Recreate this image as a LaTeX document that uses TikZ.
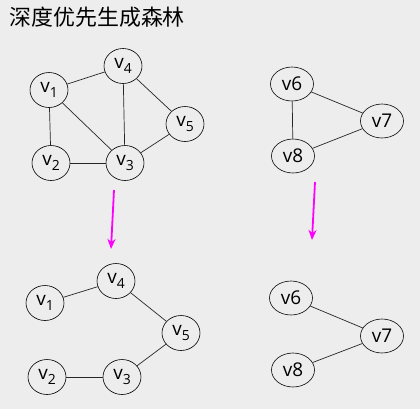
\documentclass[tikz,border=0pt]{standalone}
\usepackage{fontspec}
\setmainfont{Open Sans}
\newfontfamily\cjk{Noto Sans CJK SC}
\usetikzlibrary{shapes.geometric,arrows.meta}
\definecolor{bgcol}{RGB}{237,237,237}
\definecolor{pinkarrow}{RGB}{255,0,255}
\newcommand{\vsub}[1]{v\raisebox{-0.45ex}{\fontsize{14}{14}\selectfont #1}}

\begin{document}
\begin{tikzpicture}[
            x=1bp, y=-1bp,
            vtx/.style={
                draw,
                ellipse,
                line width=0.6bp,
                minimum width=38bp,
                minimum height=35bp,
                inner sep=0pt,
                font=\fontsize{19}{19}\selectfont
            },
            wvtx/.style={vtx, minimum width=43bp, minimum height=34bp},
            edge/.style={line width=0.7bp, black!85},
            pink/.style={-{Stealth[length=10bp,width=8bp,inset=3bp]}, pinkarrow, line width=1.8bp}
        ]
        \fill[bgcol] (0,0) rectangle (420,409);
        \useasboundingbox (0,0) rectangle (420,409);

        \node[anchor=west, font=\cjk\fontsize{22}{22}\selectfont] (title) at (6,17) {深度优先生成森林};

        % graph
        \node[vtx] (a1) at (49,90) {\vsub{1}};
        \node[vtx] (a4) at (123,66) {\vsub{4}};
        \node[vtx] (a2) at (51,163) {\vsub{2}};
        \node[vtx] (a3) at (125,163) {\vsub{3}};
        \node[vtx] (a5) at (185,124) {\vsub{5}};

        \node[wvtx] (b6) at (292,84) {v6};
        \node[wvtx] (b7) at (382,121) {v7};
        \node[wvtx] (b8) at (293,156) {v8};

        \draw[edge] (a1) -- (a4);
        \draw[edge] (a1) -- (a2);
        \draw[edge] (a1) -- (a3);
        \draw[edge] (a4) -- (a3);
        \draw[edge] (a4) -- (a5);
        \draw[edge] (a2) -- (a3);
        \draw[edge] (a3) -- (a5);
        \draw[edge] (b6) -- (b7);
        \draw[edge] (b6) -- (b8);
        \draw[edge] (b8) -- (b7);

        % forest
        \node[vtx] (c1) at (45,303) {\vsub{1}};
        \node[vtx] (c4) at (116,281) {\vsub{4}};
        \node[vtx] (c5) at (181,333) {\vsub{5}};
        \node[vtx] (c2) at (47,377) {\vsub{2}};
        \node[vtx] (c3) at (122,377) {\vsub{3}};

        \node[wvtx] (d6) at (291,298) {v6};
        \node[wvtx] (d7) at (382,336) {v7};
        \node[wvtx] (d8) at (293,370) {v8};

        \draw[edge] (c1) -- (c4);
        \draw[edge] (c4) -- (c5);
        \draw[edge] (c5) -- (c3);
        \draw[edge] (c3) -- (c2);
        \draw[edge] (d6) -- (d7);
        \draw[edge] (d8) -- (d7);

        \coordinate (p1) at (114,190);
        \coordinate (q1) at (111,249);
        \coordinate (p2) at (315,182);
        \coordinate (q2) at (312,240);
        \draw[pink] (p1) -- (q1);
        \draw[pink] (p2) -- (q2);
\end{tikzpicture}
\end{document}
